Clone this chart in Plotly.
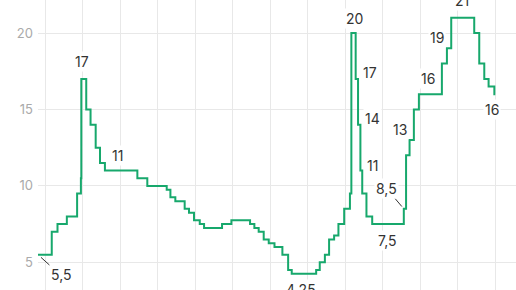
import plotly.graph_objects as go

# Key rate steps (date of change, value)
dates = ["2013-09-13", "2014-03-03", "2014-04-28", "2014-07-28", "2014-11-05",
         "2014-12-12", "2014-12-16", "2015-02-02", "2015-03-16", "2015-05-05",
         "2015-06-16", "2015-08-03", "2016-06-14", "2016-09-19", "2017-03-27",
         "2017-05-02", "2017-06-19", "2017-09-18", "2017-10-30", "2017-12-18",
         "2018-02-12", "2018-03-26", "2018-09-17", "2018-12-17", "2019-06-17",
         "2019-07-29", "2019-09-09", "2019-10-28", "2019-12-16", "2020-02-10",
         "2020-04-27", "2020-06-22", "2020-07-27", "2021-03-22", "2021-04-26",
         "2021-06-15", "2021-07-26", "2021-09-13", "2021-10-25", "2021-12-20",
         "2022-02-14", "2022-02-28", "2022-04-11", "2022-05-04", "2022-05-27",
         "2022-06-14", "2022-07-25", "2022-09-19", "2023-07-24", "2023-08-15",
         "2023-09-18", "2023-10-30", "2023-12-18", "2024-07-29", "2024-09-16",
         "2024-10-28", "2025-06-09", "2025-07-28", "2025-09-15", "2025-10-27",
         "2025-12-22", "2025-12-31"]
rates = [5.5, 7.0, 7.5, 8.0, 9.5,
         10.5, 17.0, 15.0, 14.0, 12.5,
         11.5, 11.0, 10.5, 10.0, 9.75,
         9.25, 9.0, 8.5, 8.25, 7.75,
         7.5, 7.25, 7.5, 7.75, 7.5,
         7.25, 7.0, 6.5, 6.25, 6.0,
         5.5, 4.5, 4.25, 4.5, 5.0,
         5.5, 6.5, 6.75, 7.5, 8.5,
         9.5, 20.0, 17.0, 14.0, 11.0,
         9.5, 8.0, 7.5, 8.5, 12.0,
         13.0, 15.0, 16.0, 18.0, 19.0,
         21.0, 20.0, 18.0, 17.0, 16.5,
         16.0, 16.0]

y_ticks = [5, 10, 15, 20]

x_start = "2013-10-20"
x_end = "2026-07-21"

# labelled points: (date, value, text)
label_dates = ["2014-12-16", "2015-08-03", "2020-07-27", "2022-02-28", "2022-04-11",
               "2022-05-04", "2022-05-27", "2022-09-19", "2023-09-18", "2023-12-18",
               "2024-09-16", "2024-10-28", "2025-12-22"]
label_values = [17, 11, 4.25, 20, 17, 14, 11, 7.5, 13, 16, 19, 21, 16]
label_texts = ["17", "11", "4,25", "20", "17", "14", "11", "7,5", "13", "16", "19", "21", "16"]
label_shifts = [(1, 17), (13, 15.6), (9, -15.7), (3, 14.3), (14, 6), (14.3, 6.7),
                (12, 5.6), (15, -16), (-9.3, 11), (8.6, 15.2), (-9.7, 11.3),
                (11, 17.7), (-2.3, -15.8)]

green = "#17a86c"
txt = "#333333"
font_family = "Inter, Roboto, sans-serif"

fig = go.Figure()
fig.add_trace(go.Scatter(x=dates, y=rates, mode="lines",
                         line=dict(shape="hv", color=green, width=2),
                         hoverinfo="skip"))

annotations = []
for d, v, t, (xs, ys) in zip(label_dates, label_values, label_texts, label_shifts):
    annotations.append(dict(x=d, y=v, text=t, showarrow=False, xshift=xs, yshift=ys,
                            font=dict(size=14, color=txt, family=font_family),
                            bgcolor="white", borderpad=1))

# arrowed labels
annotations.append(dict(x=x_start, y=rates[0], text="5,5", showarrow=True,
                        arrowhead=0, arrowwidth=1, arrowcolor=txt, ax=22.5, ay=20.3,
                        standoff=4, font=dict(size=14, color=txt, family=font_family),
                        bgcolor="white", borderpad=1))
annotations.append(dict(x="2023-07-24", y=8.5, text="8,5", showarrow=True,
                        arrowhead=0, arrowwidth=1, arrowcolor=txt, ax=-17, ay=-20,
                        standoff=3, font=dict(size=14, color=txt, family=font_family),
                        bgcolor="white", borderpad=1))

fig.update_layout(
    width=516, height=290,
    margin=dict(l=38, r=0, t=0, b=0),
    paper_bgcolor="white", plot_bgcolor="white",
    showlegend=False,
    annotations=annotations,
    xaxis=dict(type="date", range=[x_start, x_end], tick0="2014-01-01", dtick="M12",
               showticklabels=False, showgrid=True, gridcolor="#e8e8e8", gridwidth=1,
               zeroline=False, showline=False, ticks=""),
    yaxis=dict(range=[3.19, 22.16], tickvals=y_ticks, ticktext=[str(v) for v in y_ticks],
               showgrid=True, gridcolor="#e8e8e8", gridwidth=1, zeroline=False,
               showline=False, ticks="", ticklabelstandoff=4,
               tickfont=dict(size=13, color="#aaaaaa", family=font_family)),
)

fig.write_html("out.html")
